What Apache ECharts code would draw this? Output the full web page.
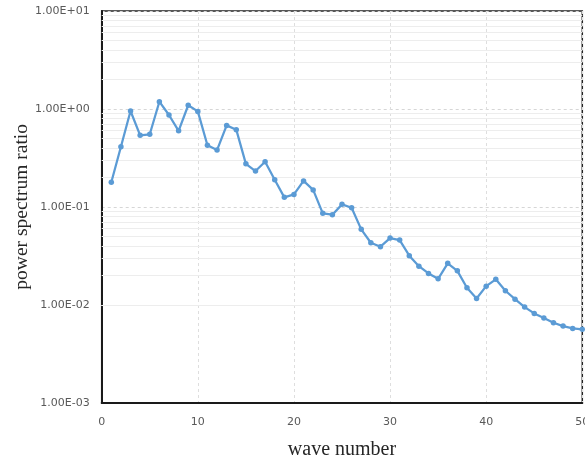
<!DOCTYPE html>
<html>
<head>
<meta charset="utf-8">
<script src="https://cdn.jsdelivr.net/npm/echarts@6/dist/echarts.min.js"></script>
<style>
html,body{margin:0;padding:0;background:#fff;}
#chart{width:585px;height:462px;}
</style>
</head>
<body>
<div id="chart"></div>
<script>
const waveNumbers = [1,2,3,4,5,6,7,8,9,10,11,12,13,14,15,16,17,18,19,20,21,22,23,24,25,26,27,28,29,30,31,32,33,34,35,36,37,38,39,40,41,42,43,44,45,46,47,48,49,50];
const powerRatio = [0.178,0.411,0.952,0.537,0.551,1.185,0.867,0.598,1.09,0.944,
  0.425,0.380,0.679,0.614,0.275,0.232,0.289,0.189,0.125,0.134,
  0.184,0.149,0.0858,0.0831,0.106,0.098,0.0589,0.0430,0.0392,0.0480,
  0.0458,0.0317,0.0248,0.0209,0.0184,0.0265,0.0222,0.0149,0.0116,0.0155,
  0.0182,0.0139,0.0114,0.00947,0.00816,0.00731,0.00655,0.00606,0.00574,0.00561];
const xTicks = [0,10,20,30,40,50];
const yMajorTicks = [0.001,0.01,0.1,1,10];
const minorMantissas = [2,3,4,5,6,7,8,9];
const minorDecades = [0.001,0.01,0.1,1];

const minorGrid = [];
minorDecades.forEach(d => minorMantissas.forEach(m => minorGrid.push({yAxis: +(m*d).toPrecision(3)})));

function fmtExp(v){
  const e = Math.round(Math.log10(v));
  const mant = (v/Math.pow(10,e)).toFixed(2);
  const sign = e < 0 ? '-' : '+';
  const a = Math.abs(e);
  return mant + 'E' + sign + (a < 10 ? '0' + a : '' + a);
}

const chart = echarts.init(document.getElementById('chart'), null, {renderer:'canvas'});
chart.setOption({
  animation:false,
  backgroundColor:'#ffffff',
  grid:{left:101.7, right:2.7, top:11, bottom:59.3, show:true, borderColor:'#222', borderWidth:1.5,
    containLabel:false, outerBoundsMode:'none'},
  xAxis:{
    type:'value', min:xTicks[0], max:xTicks[xTicks.length-1], interval:10,
    name:'wave number', nameLocation:'middle', nameGap:37, nameMoveOverlap:false,
    nameTextStyle:{fontFamily:'Liberation Serif', fontSize:20, color:'#262626'},
    axisLine:{show:true, onZero:false, lineStyle:{color:'#1a1a1a', width:2}},
    axisTick:{show:false},
    axisLabel:{fontFamily:'DejaVu Sans', fontSize:11, color:'#595959', margin:14},
    splitLine:{show:true, lineStyle:{color:'#dedede', type:[3,3], width:1}}
  },
  yAxis:{
    type:'log', logBase:10, min:yMajorTicks[0], max:yMajorTicks[yMajorTicks.length-1],
    name:'power spectrum ratio', nameLocation:'middle', nameGap:70, nameMoveOverlap:false,
    nameTextStyle:{fontFamily:'Liberation Serif', fontSize:19.5, color:'#262626'},
    axisLine:{show:true, lineStyle:{color:'#1a1a1a', width:2}},
    axisTick:{show:false},
    axisLabel:{fontFamily:'DejaVu Sans', fontSize:11, color:'#595959', margin:12, formatter:fmtExp},
    splitLine:{show:true, lineStyle:{color:'#d6d6d6', type:[3,3], width:1}}
  },
  series:[
    {
      type:'line', data:[], z:1, silent:true,
      markLine:{silent:true, symbol:['none','none'], label:{show:false},
        lineStyle:{color:'#ededed', type:'solid', width:1}, data:minorGrid, animation:false}
    },
    {
      type:'line', z:5,
      data: waveNumbers.map((w,i)=>[w, powerRatio[i]]),
      symbol:'circle', symbolSize:5.5, showSymbol:true,
      lineStyle:{color:'#5b9bd5', width:2.25},
      itemStyle:{color:'#5b9bd5'}
    }
  ]
});
</script>
</body>
</html>
